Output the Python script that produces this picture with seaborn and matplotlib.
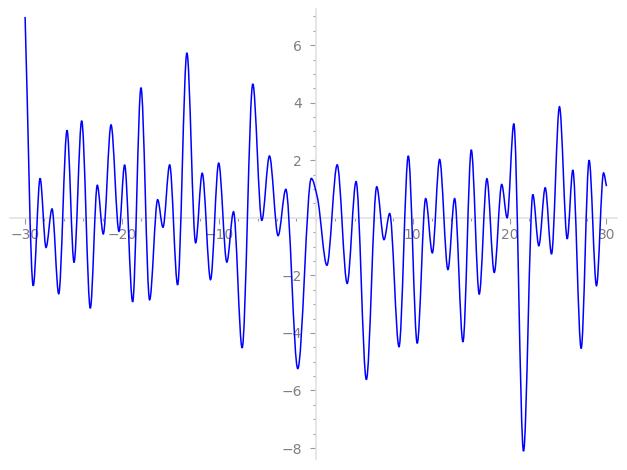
import matplotlib
matplotlib.use("Agg")
import matplotlib.pyplot as plt
import numpy as np
import seaborn as sns
from matplotlib.path import Path
from matplotlib.patches import PathPatch
from matplotlib.ticker import FixedLocator

# points (turning points, plus start, shoulder and end)
curve_x = [
    -30.0, -29.16, -28.45, -27.84, -27.22, -26.53, -25.67, -24.95, -24.16, -23.27,
    -22.55, -21.93, -21.13, -20.31, -19.73, -18.9, -18.04, -17.15, -16.32, -15.77,
    -15.08, -14.26, -13.3, -12.4, -11.72, -10.86, -10.02, -9.18, -8.49, -7.6,
    -6.5, -5.57, -4.78, -3.89, -3.09, -1.86, -0.46, 0.17, 1.15, 2.21,
    3.24, 4.16, 5.22, 6.29, 7.04, 7.63, 8.59, 9.55, 10.47, 11.34,
    12.03, 12.78, 13.64, 14.33, 15.19, 16.05, 16.87, 17.66, 18.42, 19.19,
    19.75, 20.44, 21.44, 22.4, 23.02, 23.68, 24.33, 25.15, 25.95, 26.53,
    27.39, 28.21, 28.97, 29.7, 30.0,
]
curve_y = [
    6.98, -2.36, 1.37, -1.03, 0.31, -2.64, 3.04, -1.55, 3.37, -3.14,
    1.13, -0.56, 3.23, -0.47, 1.84, -2.92, 4.52, -2.85, 0.63, -0.33,
    1.84, -2.33, 5.73, -0.87, 1.55, -2.15, 1.9, -1.54, 0.21, -4.52,
    4.65, -0.09, 2.15, -0.62, 0.99, -5.24, 1.37, 0.70, -1.65, 1.84,
    -2.28, 1.26, -5.62, 1.08, -0.76, 0.15, -4.48, 2.15, -4.36, 0.67,
    -1.22, 2.03, -1.8, 0.67, -4.31, 2.36, -2.65, 1.36, -1.9, 1.16,
    0.0, 3.27, -8.11, 0.81, -0.97, 1.05, -1.26, 3.86, -0.73, 1.66,
    -4.54, 2.0, -2.36, 1.56, 1.1,
]

x_major = [-30, -20, -10, 10, 20, 30]
y_major = [-8, -6, -4, -2, 2, 4, 6]

axis_color = "#e2e2e2"
tick_color = "#9a9a9a"
label_color = "#7f7f7f"

sns.set_theme(style="white")
plt.rcParams["font.family"] = ["DejaVu Sans"]

fig = plt.figure(figsize=(6.27, 4.70), dpi=100)
ax = fig.add_axes([0, 0, 1, 1])
ax.set_facecolor("white")

# smooth curve through the read points: monotone cubic tangents drawn as bezier segments
xs = np.array(curve_x)
ys = np.array(curve_y)
h = np.diff(xs)
delta = np.diff(ys) / h
m = np.zeros_like(xs)
m[0] = delta[0]
m[-1] = delta[-1]
for k in range(1, len(xs) - 1):
    if delta[k - 1] * delta[k] > 0:
        w1 = 2 * h[k] + h[k - 1]
        w2 = h[k] + 2 * h[k - 1]
        m[k] = (w1 + w2) / (w1 / delta[k - 1] + w2 / delta[k])

verts = [(xs[0], ys[0])]
codes = [Path.MOVETO]
for k in range(len(xs) - 1):
    verts.append((xs[k] + h[k] / 3, ys[k] + m[k] * h[k] / 3))
    verts.append((xs[k + 1] - h[k] / 3, ys[k + 1] - m[k + 1] * h[k] / 3))
    verts.append((xs[k + 1], ys[k + 1]))
    codes += [Path.CURVE4] * 3
ax.add_patch(PathPatch(Path(verts, codes), facecolor="none", edgecolor="#0000ff",
                       lw=1.1, zorder=3))

ax.set_xlim(-32.59, 32.12)
ax.set_ylim(-8.763, 7.568)

for side in ["top", "right"]:
    ax.spines[side].set_visible(False)
ax.spines["left"].set_position(("data", 0))
ax.spines["bottom"].set_position(("data", 0))
ax.spines["left"].set_bounds(-8.37, 7.27)
ax.spines["bottom"].set_bounds(-31.55, 31.1)
for side in ["left", "bottom"]:
    ax.spines[side].set_color(axis_color)
    ax.spines[side].set_linewidth(1.2)
    ax.spines[side].set_zorder(1)

ax.xaxis.set_major_locator(FixedLocator(x_major))
ax.xaxis.set_minor_locator(FixedLocator(np.arange(-30, 31, 2)))
ax.yaxis.set_major_locator(FixedLocator(y_major))
ax.yaxis.set_minor_locator(FixedLocator(np.arange(-8, 7.1, 0.5)))
ax.tick_params(which="both", bottom=True, left=True, top=False, right=False)
ax.tick_params(which="major", direction="out", length=4, width=0.8, color=tick_color,
               labelcolor=label_color, labelsize=10)
ax.tick_params(which="minor", direction="out", length=2, width=0.8, color=tick_color)
ax.tick_params(axis="x", which="major", pad=3)
ax.tick_params(axis="y", which="major", pad=6)
ax.grid(False)

fig.savefig("out.png", dpi=100)
